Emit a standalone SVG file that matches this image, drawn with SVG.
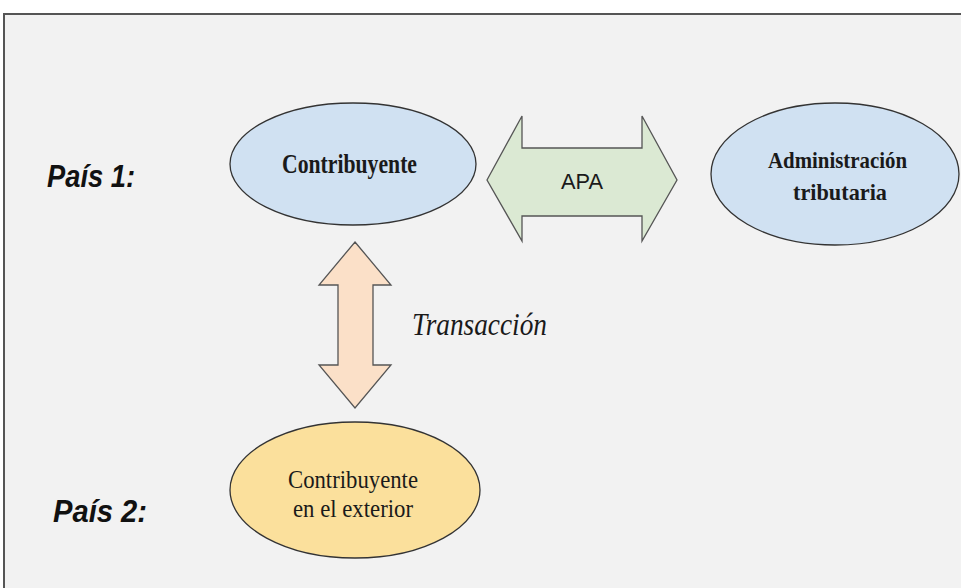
<svg xmlns="http://www.w3.org/2000/svg" width="961" height="588" viewBox="0 0 961 588">
<style>
.frame{fill:#f2f2f2;stroke:#555;stroke-width:2}
.node{stroke:#333;stroke-width:1.3}
.blue{fill:#d0e1f2}
.yellow{fill:#fbe09c}
.arr{stroke:#555;stroke-width:1.3;stroke-linejoin:miter}
.lbl{font-family:"Liberation Sans",Arial,sans-serif;font-weight:bold;font-style:italic;font-size:32px;fill:#111}
.serif{font-family:"Liberation Serif","Times New Roman",serif;fill:#1a1a1a;text-anchor:start}
</style>
<rect x="0" y="0" width="961" height="588" fill="#fff"/>
<rect class="frame" x="4" y="14" width="970" height="590"/>
<g id="label-pais1"><text class="lbl" x="47" y="187" textLength="88" lengthAdjust="spacingAndGlyphs">País 1:</text></g>
<g id="label-pais2"><text class="lbl" x="53" y="522" textLength="94" lengthAdjust="spacingAndGlyphs">País 2:</text></g>
<g id="contribuyente">
<ellipse class="node blue" cx="353" cy="164" rx="123" ry="61"/>
<text class="serif" x="282" y="173" font-size="27" font-weight="bold" textLength="135" lengthAdjust="spacingAndGlyphs">Contribuyente</text>
</g>
<g id="administracion">
<ellipse class="node blue" cx="835" cy="174" rx="124" ry="71"/>
<text class="serif" x="768" y="168" font-size="23" font-weight="bold" textLength="139" lengthAdjust="spacingAndGlyphs">Administración</text>
<text class="serif" x="793" y="200" font-size="23" font-weight="bold" textLength="94" lengthAdjust="spacingAndGlyphs">tributaria</text>
</g>
<g id="exterior">
<ellipse class="node yellow" cx="355" cy="490" rx="125" ry="68"/>
<text class="serif" x="288" y="488" font-size="26" textLength="130" lengthAdjust="spacingAndGlyphs">Contribuyente</text>
<text class="serif" x="293" y="517" font-size="26" textLength="120" lengthAdjust="spacingAndGlyphs">en el exterior</text>
</g>
<g id="connectors">
<g id="apa">
<polygon class="arr" fill="#dbe9d3" points="487,180 522,116 522,148 642,148 642,116 677,180 642,241 642,216 522,216 522,241"/>
<text x="561" y="189" font-family="Liberation Sans,Arial,sans-serif" font-size="22" fill="#1a1a1a" textLength="42" lengthAdjust="spacingAndGlyphs">APA</text>
</g>
<g id="transaccion">
<polygon class="arr" fill="#fbe0c8" points="355,242 391,285 373,285 373,365 391,365 355,408 319,365 338,365 338,285 319,285"/>
<text class="serif" x="412" y="335" font-size="31" font-style="italic" textLength="135" lengthAdjust="spacingAndGlyphs">Transacción</text>
</g>
</g>
</svg>
